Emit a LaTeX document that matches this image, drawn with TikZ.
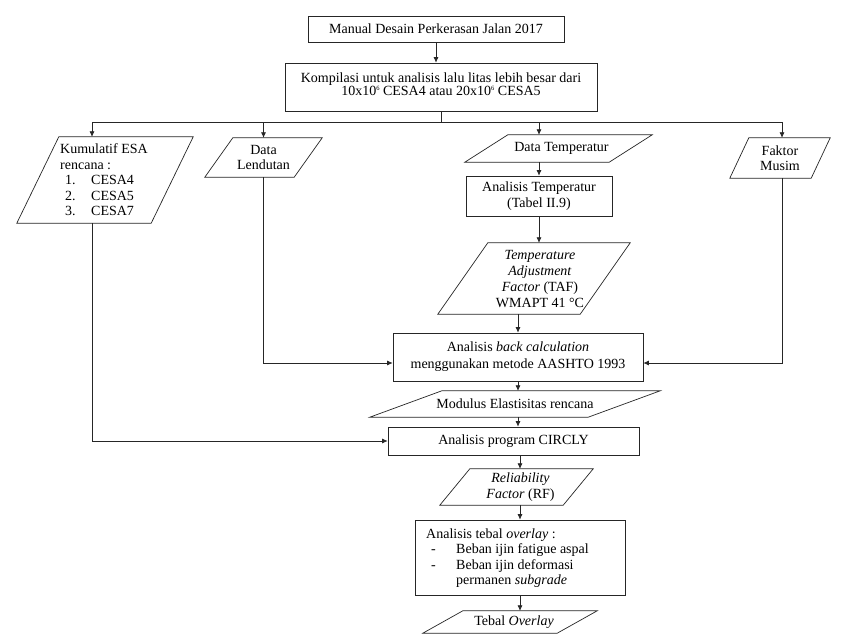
\documentclass[tikz,border=0pt]{standalone}
\usepackage{fontspec}
\setmainfont{Liberation Serif}
\usetikzlibrary{arrows.meta}
\newcommand\ft{\fontsize{14}{15.5}\selectfont}
\newcommand\supsix{\raisebox{5pt}{\fontsize{6.5}{6.5}\selectfont 6}}
\newcommand{\pgram}[2]{\draw[ln] (#1.south west) -- ([xshift=#2pt]#1.north west) -- (#1.north east) -- ([xshift=-#2pt]#1.south east) -- cycle;}
\begin{document}
\begin{tikzpicture}[x=1pt,y=-1pt,
  ln/.style={line width=0.7pt, draw=black!85},
  arr/.style={ln,-{Latex[length=5.5pt,width=5pt]}},
  rbox/.style={draw=black!85, line width=0.7pt, inner sep=0pt, align=center, font=\ft},
  pg/.style={inner sep=0pt, align=center, font=\ft},
  txt/.style={inner sep=0pt, align=center, font=\ft}]
\useasboundingbox[fill=white] (0,0) rectangle (848,643);

% boxes
\node[rbox, minimum width=256pt, minimum height=26pt] (b1) at (436,29) {Manual Desain Perkerasan Jalan 2017};
\node[rbox, minimum width=312pt, minimum height=48pt] (b2) at (441,87) {};
\node[txt, font=\fontsize{14}{13.5}\selectfont] (b2t) at (441,84) {Kompilasi untuk analisis lalu litas lebih besar dari\\10x10\supsix{} CESA4 atau 20x10\supsix{} CESA5};

\node[pg, minimum width=176pt, minimum height=86pt] (kum) at (105,180) {};
\node[txt, anchor=west, align=left] (kumt) at (60,180) {Kumulatif ESA\\rencana :\\\hspace*{5pt}\makebox[26pt][l]{1.}CESA4\\\hspace*{5pt}\makebox[26pt][l]{2.}CESA5\\\hspace*{5pt}\makebox[26pt][l]{3.}CESA7};

\node[pg, minimum width=117pt, minimum height=39pt] (lend) at (263.5,157.5) {Data\\Lendutan};
\node[pg, minimum width=187pt, minimum height=27pt] (dtemp) at (558.5,148.5) {\hspace*{6pt}Data Temperatur};
\node[pg, minimum width=100pt, minimum height=40pt] (musim) at (780,158) {Faktor\\Musim};

\node[rbox, minimum width=146pt, minimum height=40pt] (atemp) at (539,196) {Analisis Temperatur\\(Tabel II.9)};

\node[pg, minimum width=192pt, minimum height=71pt] (taf) at (534,278.5) {};
\node[txt, font=\fontsize{14}{16}\selectfont] (taft) at (540,279) {\textit{Temperature}\\\textit{Adjustment}\\\textit{Factor} (TAF)\\WMAPT 41 °C};

\node[rbox, minimum width=250pt, minimum height=48pt, font=\fontsize{14}{17}\selectfont] (back) at (518,357) {Analisis \textit{back calculation}\\menggunakan metode AASHTO 1993};

\node[pg, minimum width=290pt, minimum height=26pt] (mod) at (515,404) {Modulus Elastisitas rencana};

\node[rbox, minimum width=251pt, minimum height=28pt] (circ) at (513.5,441) {Analisis program CIRCLY};

\node[pg, minimum width=153pt, minimum height=36pt] (rf) at (516.5,487) {\hspace*{8pt}\textit{Reliability}\\\hspace*{8pt}\textit{Factor} (RF)};

\node[rbox, minimum width=210pt, minimum height=75pt] (ovl) at (520,557.5) {};
\node[txt, anchor=west, align=left] (ovlt) at (426,558) {Analisis tebal \textit{overlay} :\\\hspace*{5pt}\makebox[25pt][l]{-}Beban ijin fatigue aspal\\\hspace*{5pt}\makebox[25pt][l]{-}Beban ijin deformasi\\\hspace*{30pt}permanen \textit{subgrade}};

\node[pg, minimum width=174pt, minimum height=22pt] (tebal) at (510,622) {\hspace*{8pt}Tebal \textit{Overlay}};

% parallelogram outlines
\pgram{kum}{42}
\pgram{lend}{28}
\pgram{dtemp}{43}
\pgram{musim}{19}
\pgram{taf}{50}
\pgram{mod}{72}
\pgram{rf}{30}
\pgram{tebal}{40}

% connectors
\coordinate (busL) at (92,122);
\coordinate (busR) at (782,122);
\draw[arr] (b1.south) -- (b1.south |- b2.north);
\draw[ln] (b2.south) -- (b2.south |- busL);
\draw[ln] (busL) -- (busR);
\draw[arr] (busL) -- (busL |- kum.north);
\draw[arr] (lend.north |- busL) -- (lend.north);
\draw[arr] (atemp.north |- busL) -- (atemp.north |- dtemp.north);
\draw[arr] (busR) -- (busR |- musim.north);
\draw[arr] (atemp.north |- dtemp.south) -- (atemp.north);
\draw[arr] (atemp.south) -- (atemp.south |- taf.north);
\draw[arr] (back.north |- taf.south) -- (back.north);
\coordinate (inL) at ([yshift=-6pt]back.west);
\coordinate (inR) at ([yshift=-6pt]back.east);
\draw[arr] (lend.south) -- (lend.south |- inL) -- (inL);
\draw[arr] (busR |- musim.south) -- (busR |- inR) -- (inR);
\draw[arr] (back.south) -- (back.south |- mod.north);
\draw[arr] (back.south |- mod.south) -- (back.south |- circ.north);
\draw[arr] (busL |- kum.south) -- (busL |- circ.west) -- (circ.west);
\draw[arr] (ovl.north |- circ.south) -- (ovl.north |- rf.north);
\draw[arr] (ovl.north |- rf.south) -- (ovl.north);
\draw[arr] (ovl.south) -- (ovl.south |- tebal.north);
\end{tikzpicture}
\end{document}
